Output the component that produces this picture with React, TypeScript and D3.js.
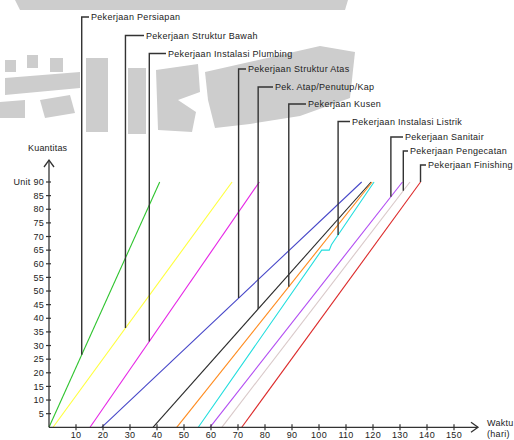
import React from "react";
import * as d3 from "d3";

const taskNames = [
  "Pekerjaan Persiapan",
  "Pekerjaan Struktur Bawah",
  "Pekerjaan Instalasi Plumbing",
  "Pekerjaan Struktur Atas",
  "Pek. Atap/Penutup/Kap",
  "Pekerjaan Kusen",
  "Pekerjaan Instalasi Listrik",
  "Pekerjaan Sanitair",
  "Pekerjaan Pengecatan",
  "Pekerjaan Finishing",
];
const startDays = [0, 1.5, 15.2, 19.5, 38.5, 47.3, 55.3, 59.6, 64, 71.4];
const endDays = [41, 67.8, 77.9, 115.8, 119.3, 119.7, 120.4, 130.9, 133.7, 137.6];
const totalQty = 90;
// intermediate points of the "Instalasi Listrik" curve (index 6)
const listrikMidDays = [101, 103.8, 104.6];
const listrikMidQty = [65, 65, 67];
// quantity at which each leader line touches its curve
const leaderQty = [26.6, 36.4, 31.5, 47.4, 43.4, 51.6, 70.6, 84.6, 86.8, 90];
const seriesColors = [
  "#2ec42e",
  "#ffff3c",
  "#e626e6",
  "#4646c8",
  "#2a2a2a",
  "#ff8a1c",
  "#22dede",
  "#b24cf2",
  "#d9c9c9",
  "#dc2a2a",
];
const xTicks = d3.range(10, 151, 10);
const yTicks = d3.range(5, 91, 5);

// layout (label rows)
const labelRowY = [17, 35.5, 53.5, 69, 87, 104, 121.5, 137, 151, 165];
const labelTextX = [91, 146, 168, 248, 275, 308, 352, 405, 410, 428];

const W = 514;
const H = 440;

const watermark: [number, number][][] = [
  [[15, 0], [348, 0], [345, 10], [20, 10]],
  [[5, 60], [16, 60], [16, 72], [5, 72]],
  [[27, 55], [38, 55], [38, 68], [27, 68]],
  [[50, 58], [63, 58], [63, 72], [50, 72]],
  [[5, 78], [80, 72], [80, 88], [5, 95]],
  [[0, 102], [25, 100], [25, 118], [0, 118]],
  [[40, 100], [70, 95], [75, 113], [45, 118]],
  [[86, 58], [108, 58], [108, 132], [86, 132]],
  [[128, 68], [146, 68], [146, 134], [128, 134]],
  [[156, 70], [198, 64], [200, 92], [178, 100], [196, 112], [192, 132], [158, 130]],
  [[205, 72], [320, 46], [355, 52], [350, 98], [300, 116], [250, 124], [215, 128], [208, 100]],
];

export default function App() {
  const x = d3.scaleLinear().domain([0, 150]).range([49, 454]);
  const y = d3.scaleLinear().domain([0, 90]).range([427.3, 182]);
  const x0 = x(0);
  const y0 = y(0);

  const series = taskNames.map((name, i) => {
    const pts: [number, number][] = [[startDays[i], 0]];
    if (i === 6) {
      listrikMidDays.forEach((d, k) => pts.push([d, listrikMidQty[k]]));
    }
    pts.push([endDays[i], totalQty]);
    return { name, pts, color: seriesColors[i] };
  });

  const line = d3
    .line<[number, number]>()
    .x((d) => x(d[0]))
    .y((d) => y(d[1]));

  const dayAt = (pts: [number, number][], q: number) => {
    for (let k = 0; k < pts.length - 1; k++) {
      const a = pts[k];
      const b = pts[k + 1];
      if (q >= a[1] && q <= b[1] && b[1] !== a[1]) {
        return a[0] + ((b[0] - a[0]) * (q - a[1])) / (b[1] - a[1]);
      }
    }
    return pts[pts.length - 1][0];
  };

  const font = "'Liberation Sans', Arial, sans-serif";
  const ink = "#333";

  return (
    <svg
      width={W}
      height={H}
      style={{ position: "absolute", left: 0, top: 0, background: "#fff" }}
      fontFamily={font}
    >
      <rect width={W} height={H} fill="#fff" />
      <g fill="#cdcdcd">
        {watermark.map((p, i) => (
          <polygon key={i} points={p.map((q) => q.join(",")).join(" ")} />
        ))}
      </g>

      {/* series lines */}
      {series.map((s, i) => (
        <path key={i} d={line(s.pts) || ""} fill="none" stroke={s.color} strokeWidth={1.1} />
      ))}

      {/* leader lines and labels */}
      {series.map((s, i) => {
        const lx = x(dayAt(s.pts, leaderQty[i]));
        const ly = y(leaderQty[i]);
        const ty = labelRowY[i];
        return (
          <g key={"l" + i}>
            <path
              d={`M${lx},${ly}V${ty}H${labelTextX[i] - 2}`}
              fill="none"
              stroke={ink}
              strokeWidth={1.4}
            />
            <text
              x={labelTextX[i]}
              y={ty}
              dy="0.35em"
              fontSize={9}
              fill="#222"
              letterSpacing={0.3}
            >
              {s.name}
            </text>
          </g>
        );
      })}

      {/* axes */}
      <g stroke={ink} strokeWidth={1.3} fill="none">
        <line x1={x0} y1={y0} x2={478} y2={y0} />
        <path d={`M471,${y0 - 5}L478,${y0}L471,${y0 + 5}`} />
        <line x1={x0} y1={y0} x2={x0} y2={160} />
        <path d={`M${x0 - 5},167L${x0},160L${x0 + 5},167`} />
      </g>
      {xTicks.map((t) => (
        <g key={"x" + t}>
          <line x1={x(t)} x2={x(t)} y1={y0 - 3} y2={y0 + 3} stroke={ink} strokeWidth={1.2} />
          <text x={x(t)} y={438} fontSize={9} textAnchor="middle" fill="#222" letterSpacing={0.3}>
            {t}
          </text>
        </g>
      ))}
      {yTicks.map((t) => (
        <g key={"y" + t}>
          <line x1={x0 - 3} x2={x0 + 2} y1={y(t)} y2={y(t)} stroke={ink} strokeWidth={1.2} />
          <text x={44} y={y(t)} dy="0.35em" fontSize={9} textAnchor="end" fill="#222" letterSpacing={0.3}>
            {t === 90 ? "Unit 90" : t}
          </text>
        </g>
      ))}
      <text x={28} y={148} dy="0.35em" fontSize={9} fill="#222" letterSpacing={0.2}>
        Kuantitas
      </text>
      <text x={487} y={422.5} dy="0.35em" fontSize={9} fill="#222" letterSpacing={0.3}>
        Waktu
      </text>
      <text x={487} y={433.5} dy="0.35em" fontSize={9} fill="#222" letterSpacing={0.3}>
        (hari)
      </text>
    </svg>
  );
}
